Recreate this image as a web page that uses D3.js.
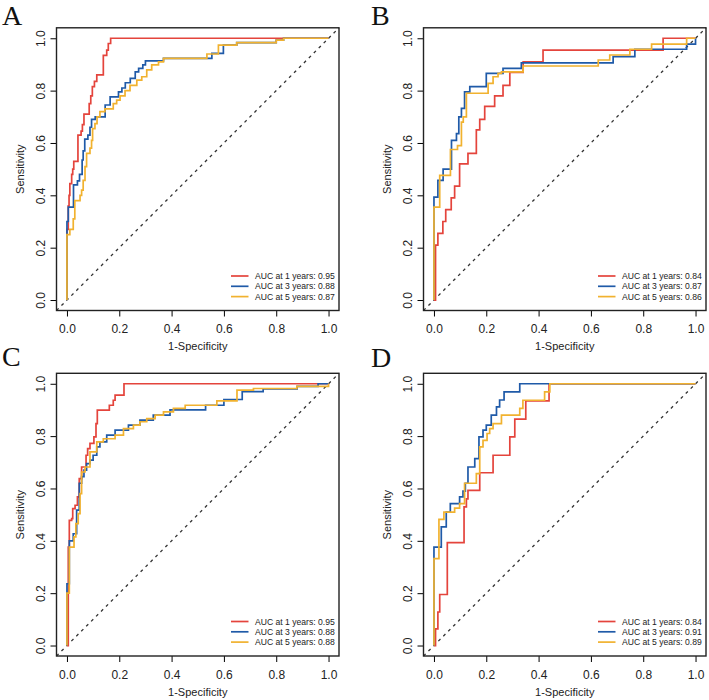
<!DOCTYPE html>
<html>
<head>
<meta charset="utf-8">
<title>ROC curves</title>
<style>
  body { margin: 0; background: #fff; }
  svg { display: block; font-family: "Liberation Sans", Arial, sans-serif; }
</style>
</head>
<body>
<script src="https://cdn.jsdelivr.net/npm/d3@7"></script>
<script>
// ROC points [1-specificity, sensitivity], each point = top of a vertical step
var years = [1, 3, 5];
var ticks = [0, 0.2, 0.4, 0.6, 0.8, 1.0];

var rocA1 = [[0,0],[0,0.27],[0.005,0.36],[0.008,0.40],[0.011,0.445],[0.018,0.48],[0.022,0.50],[0.026,0.53],[0.042,0.63],[0.054,0.645],[0.059,0.67],[0.065,0.71],[0.085,0.75],[0.091,0.78],[0.097,0.815],[0.105,0.835],[0.114,0.86],[0.139,0.935],[0.152,0.955],[0.158,0.98],[0.167,1.0],[1,1]];
var rocA3 = [[0,0],[0,0.30],[0.005,0.355],[0.025,0.44],[0.04,0.455],[0.048,0.48],[0.058,0.535],[0.062,0.57],[0.068,0.615],[0.08,0.63],[0.088,0.66],[0.094,0.69],[0.108,0.70],[0.146,0.745],[0.165,0.776],[0.197,0.795],[0.21,0.81],[0.223,0.83],[0.242,0.847],[0.261,0.872],[0.274,0.885],[0.29,0.898],[0.30,0.914],[0.369,0.923],[0.554,0.942],[0.598,0.974],[0.649,0.983],[0.80,0.993],[0.828,1.0],[1,1]];
var rocA5 = [[0,0],[0,0.25],[0.011,0.27],[0.024,0.31],[0.03,0.38],[0.05,0.40],[0.056,0.42],[0.062,0.457],[0.069,0.51],[0.075,0.56],[0.088,0.58],[0.094,0.61],[0.098,0.655],[0.107,0.674],[0.115,0.70],[0.126,0.72],[0.145,0.73],[0.177,0.75],[0.19,0.764],[0.203,0.78],[0.222,0.80],[0.241,0.82],[0.267,0.84],[0.286,0.853],[0.305,0.879],[0.324,0.898],[0.35,0.91],[0.369,0.923],[0.535,0.94],[0.579,0.974],[0.649,0.983],[0.80,0.993],[0.828,1.0],[1,1]];

var rocB1 = [[0,0],[0.006,0.21],[0.015,0.255],[0.034,0.30],[0.045,0.345],[0.066,0.39],[0.079,0.435],[0.098,0.52],[0.13,0.56],[0.162,0.65],[0.175,0.69],[0.194,0.74],[0.232,0.78],[0.264,0.82],[0.29,0.87],[0.341,0.91],[0.417,0.955],[0.876,1.0],[1,1]];
var rocB3 = [[0,0],[0,0.393],[0.015,0.457],[0.035,0.50],[0.067,0.61],[0.086,0.636],[0.095,0.70],[0.105,0.732],[0.117,0.795],[0.137,0.815],[0.20,0.866],[0.264,0.885],[0.334,0.906],[0.685,0.93],[0.768,0.958],[0.966,0.978],[1,1]];
var rocB5 = [[0,0],[0,0.355],[0.022,0.476],[0.063,0.575],[0.09,0.59],[0.105,0.68],[0.112,0.70],[0.124,0.79],[0.207,0.828],[0.226,0.853],[0.245,0.866],[0.258,0.872],[0.341,0.894],[0.628,0.917],[0.672,0.936],[0.749,0.958],[0.832,0.978],[0.966,1.0],[1,1]];

var rocC1 = [[0,0],[0.005,0.376],[0.009,0.478],[0.018,0.485],[0.022,0.523],[0.031,0.536],[0.04,0.568],[0.047,0.638],[0.056,0.682],[0.073,0.727],[0.079,0.752],[0.088,0.772],[0.103,0.797],[0.111,0.848],[0.116,0.899],[0.162,0.918],[0.177,0.937],[0.184,0.957],[0.218,1.0],[1,1]];
var rocC3 = [[0,0],[0,0.236],[0.009,0.40],[0.024,0.427],[0.037,0.517],[0.047,0.62],[0.056,0.645],[0.065,0.67],[0.075,0.695],[0.088,0.708],[0.10,0.727],[0.114,0.759],[0.126,0.778],[0.152,0.804],[0.184,0.823],[0.235,0.842],[0.279,0.861],[0.33,0.88],[0.394,0.90],[0.53,0.918],[0.6,0.94],[0.67,0.97],[0.75,0.98],[0.88,0.99],[0.96,1.0],[1,1]];
var rocC5 = [[0,0],[0,0.2],[0.009,0.376],[0.027,0.415],[0.034,0.466],[0.043,0.504],[0.05,0.58],[0.056,0.663],[0.069,0.682],[0.088,0.74],[0.114,0.778],[0.139,0.79],[0.184,0.804],[0.216,0.829],[0.254,0.842],[0.279,0.855],[0.305,0.867],[0.337,0.88],[0.369,0.893],[0.407,0.906],[0.452,0.918],[0.573,0.935],[0.65,0.976],[0.713,0.982],[0.879,0.99],[1,1]];

var rocD1 = [[0,0],[0.006,0.064],[0.015,0.128],[0.022,0.195],[0.051,0.393],[0.115,0.53],[0.124,0.56],[0.13,0.593],[0.175,0.66],[0.226,0.727],[0.29,0.797],[0.309,0.865],[0.351,0.935],[0.44,1.0],[1,1]];
var rocD3 = [[0,0],[0,0.376],[0.028,0.453],[0.047,0.51],[0.0625,0.542],[0.098,0.568],[0.111,0.59],[0.12,0.62],[0.13,0.682],[0.156,0.714],[0.172,0.797],[0.1875,0.823],[0.20,0.842],[0.219,0.88],[0.239,0.912],[0.251,0.938],[0.268,0.969],[0.328,1.0],[1,1]];
var rocD5 = [[0,0],[0,0.332],[0.019,0.482],[0.038,0.51],[0.079,0.525],[0.098,0.542],[0.117,0.62],[0.162,0.657],[0.175,0.759],[0.1875,0.784],[0.203,0.81],[0.213,0.829],[0.226,0.848],[0.258,0.88],[0.328,0.906],[0.34,0.937],[0.423,0.969],[0.443,1.0],[1,1]];

var aucA = [0.95, 0.88, 0.87];
var aucB = [0.84, 0.87, 0.86];
var aucC = [0.95, 0.88, 0.88];
var aucD = [0.84, 0.91, 0.89];

var colors = ["#e4443c", "#1f5aa8", "#f1b22f"];

var width = 709, height = 700;

var panels = [
  {label: "A", dx: 0,   dy: 0,     letterY: 25,   curves: [rocA1, rocA3, rocA5], auc: aucA},
  {label: "B", dx: 367, dy: 0,     letterY: 25,   curves: [rocB1, rocB3, rocB5], auc: aucB},
  {label: "C", dx: 0,   dy: 345.5, letterY: 20.8, curves: [rocC1, rocC3, rocC5], auc: aucC},
  {label: "D", dx: 367, dy: 345.5, letterY: 21.5, curves: [rocD1, rocD3, rocD5], auc: aucD}
];

var svg = d3.select("body").append("svg")
    .attr("width", width)
    .attr("height", height)
    .attr("viewBox", [0, 0, width, height]);

// R style: 4% padding around [0,1]
var x = d3.scaleLinear().domain([-0.04, 1.04]).range([56.5, 339]);
var y = d3.scaleLinear().domain([-0.04, 1.04]).range([310.5, 27.8]);

var line = d3.line()
    .x(d => x(d[0]))
    .y(d => y(d[1]))
    .curve(d3.curveStepAfter);

panels.forEach(function(p) {
  var g = svg.append("g").attr("transform", `translate(${p.dx},${p.dy})`);

  // x axis
  g.append("g")
      .attr("transform", `translate(0,${y.range()[0]})`)
      .call(d3.axisBottom(x).tickValues(ticks).tickFormat(d3.format(".1f")).tickSize(6))
      .call(g => g.select(".domain").remove())
      .call(g => g.selectAll("text")
          .attr("dy", null)
          .attr("y", 22.5)
          .attr("font-size", 12)
          .attr("font-family", "Liberation Sans, Arial, sans-serif")
          .attr("fill", "#222"));

  // y axis, labels rotated like R
  g.append("g")
      .attr("transform", `translate(${x.range()[0]},0)`)
      .call(d3.axisLeft(y).tickValues(ticks).tickFormat(d3.format(".1f")).tickSize(6))
      .call(g => g.select(".domain").remove())
      .call(g => g.selectAll("text")
          .attr("x", null)
          .attr("dy", null)
          .attr("text-anchor", "middle")
          .attr("transform", "translate(-11.5,0) rotate(-90)")
          .attr("font-size", 12)
          .attr("font-family", "Liberation Sans, Arial, sans-serif")
          .attr("fill", "#222"));

  // diagonal reference
  g.append("path")
      .attr("d", d3.line().x(d => x(d)).y(d => y(d))([-0.04, 1.04]))
      .attr("fill", "none")
      .attr("stroke", "#333")
      .attr("stroke-width", 1.3)
      .attr("stroke-dasharray", "3,4");

  // curves
  g.append("g")
    .selectAll("path")
    .data(p.curves)
    .join("path")
      .attr("d", line)
      .attr("fill", "none")
      .attr("stroke", (d, i) => colors[i])
      .attr("stroke-width", 1.7);

  // box
  g.append("rect")
      .attr("x", x.range()[0])
      .attr("y", y.range()[1])
      .attr("width", x.range()[1] - x.range()[0])
      .attr("height", y.range()[0] - y.range()[1])
      .attr("fill", "none")
      .attr("stroke", "#222")
      .attr("stroke-width", 1.4);

  // titles
  g.append("text")
      .attr("x", (x.range()[0] + x.range()[1]) / 2)
      .attr("y", 350)
      .attr("text-anchor", "middle")
      .attr("font-size", 11)
      .attr("fill", "#222")
      .text("1-Specificity");

  g.append("text")
      .attr("transform", `translate(23.5,${(y.range()[0] + y.range()[1]) / 2}) rotate(-90)`)
      .attr("text-anchor", "middle")
      .attr("font-size", 11)
      .attr("fill", "#222")
      .text("Sensitivity");

  // legend
  var leg = g.append("g")
    .selectAll("g")
    .data(years)
    .join("g")
      .attr("transform", (d, i) => `translate(0,${276 + i * 10.3})`);
  leg.append("line")
      .attr("x1", 231).attr("x2", 248.5)
      .attr("stroke", (d, i) => colors[i])
      .attr("stroke-width", 1.7);
  leg.append("text")
      .attr("x", 255)
      .attr("dy", "0.35em")
      .attr("font-size", 8.6)
      .attr("fill", "#222")
      .text((d, i) => `AUC at ${d} years: ${p.auc[i].toFixed(2)}`);

  // panel letter
  g.append("text")
      .attr("x", p.label == "A" || p.label == "C" ? 2 : 4)
      .attr("y", p.letterY)
      .attr("font-family", "Liberation Serif, Times New Roman, serif")
      .attr("font-size", 28)
      .attr("fill", "#111")
      .text(p.label);
});
</script>
</body>
</html>
